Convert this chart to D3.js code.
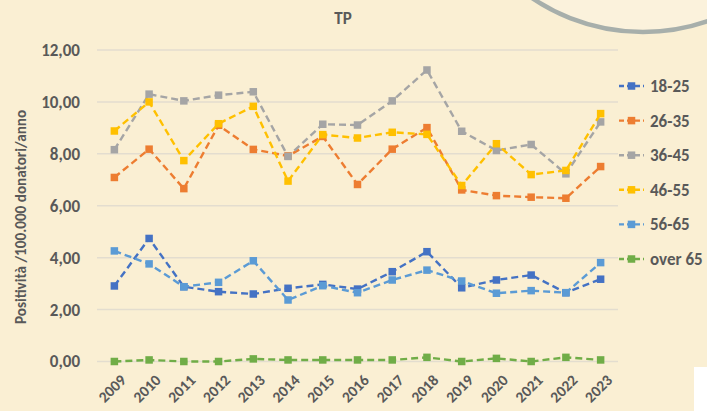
<!DOCTYPE html>
<html>
<head>
<meta charset="utf-8">
<script src="https://cdn.jsdelivr.net/npm/d3@7"></script>
<style>
body { margin: 0; background: #faefd3; }
svg { display: block; }
text { font-family: Carlito, "Liberation Sans Narrow", "Open Sans", sans-serif; font-weight: bold; fill: #595959; }
.grid line { stroke: #e3ddcf; stroke-width: 1.5px; }
.series { fill: none; stroke-width: 2.4px; stroke-dasharray: 7,4; }
</style>
</head>
<body>
<svg id="chart" width="707" height="411"></svg>
<script>

var years = ["2009","2010","2011","2012","2013","2014","2015","2016","2017","2018","2019","2020","2021","2022","2023"];
var ages = ["18-25","26-35","36-45","46-55","56-65","over 65"];
var colors = ["#4472c4","#ed7d31","#a5a5a5","#ffc000","#5b9bd5","#70ad47"];
var yTicks = [0, 2, 4, 6, 8, 10, 12];

var v1825 = [2.91,4.74,2.88,2.69,2.60,2.82,2.97,2.79,3.46,4.23,2.84,3.14,3.33,2.65,3.17];
var v2635 = [7.09,8.18,6.66,9.10,8.17,7.92,8.67,6.82,8.18,9.01,6.61,6.39,6.33,6.29,7.51];
var v3645 = [8.16,10.30,10.04,10.26,10.39,7.90,9.14,9.11,10.04,11.23,8.87,8.13,8.36,7.23,9.23];
var v4655 = [8.88,10.00,7.74,9.16,9.83,6.95,8.74,8.61,8.83,8.75,6.78,8.39,7.20,7.36,9.55];
var v5665 = [4.26,3.76,2.88,3.05,3.88,2.37,2.92,2.65,3.14,3.52,3.10,2.63,2.73,2.65,3.81];
var vOver65 = [0.00,0.06,0.00,0.00,0.10,0.06,0.06,0.06,0.06,0.16,0.00,0.12,0.00,0.16,0.06];

var series = [v1825, v2635, v3645, v4655, v5665, vOver65];

var svg = d3.select("#chart");
var margin = {top: 50, left: 97, right: 89, bottom: 50};

/// decorative arc top right
svg.append("circle")
    .attr("cx", 643).attr("cy", -166).attr("r", 198)
    .attr("fill", "#fbf2dc")
    .attr("stroke", "#a7afab")
    .attr("stroke-width", 4.5);

/// white patch bottom right
svg.append("rect")
    .attr("x", 694).attr("y", 367).attr("width", 13).attr("height", 44)
    .attr("fill", "#ffffff");

var g = svg.append("g").attr("transform", "translate(" + margin.left + "," + margin.top + ")");

var x = d3.scaleBand().domain(years).range([0, 521]);
var y = d3.scaleLinear().domain([0, 12]).range([311.5, 0]);

/// gridlines
g.append("g").attr("class", "grid")
  .selectAll("line").data(yTicks).join("line")
    .attr("x1", 0).attr("x2", 521)
    .attr("y1", function(d) { return y(d); })
    .attr("y2", function(d) { return y(d); });

/// y tick labels
var fmt = function(d) { return d3.format(".2f")(d).replace(".", ","); };
g.append("g")
  .selectAll("text").data(yTicks).join("text")
    .attr("x", -17)
    .attr("y", function(d) { return y(d); })
    .attr("dy", "0.35em")
    .attr("text-anchor", "end")
    .style("font-size", "17px")
    .text(fmt);

/// x tick labels
g.append("g")
  .selectAll("text").data(years).join("text")
    .attr("transform", function(d) {
        return "translate(" + (x(d) + x.bandwidth() / 2 + 5) + "," + (y(0) + 12) + ") rotate(-45)";
    })
    .attr("text-anchor", "end")
    .attr("dy", "0.7em")
    .style("font-size", "15.5px")
    .text(function(d) { return d; });

/// lines
var line = d3.line()
    .x(function(d, i) { return x(years[i]) + x.bandwidth() / 2; })
    .y(function(d) { return y(d); });

series.forEach(function(vals, k) {
    var sg = g.append("g");
    sg.append("path")
        .datum(vals)
        .attr("class", "series")
        .attr("stroke", colors[k])
        .attr("d", line);
    sg.selectAll("rect").data(vals).join("rect")
        .attr("x", function(d, i) { return x(years[i]) + x.bandwidth() / 2 - 3.75; })
        .attr("y", function(d) { return y(d) - 3.75; })
        .attr("width", 7.5).attr("height", 7.5)
        .attr("fill", colors[k]);
});

/// title
svg.append("text")
    .attr("x", 343).attr("y", 24)
    .attr("text-anchor", "middle")
    .style("font-size", "17px")
    .text("TP");

/// y axis title
svg.append("text")
    .attr("transform", "translate(26,217) rotate(-90)")
    .attr("text-anchor", "middle")
    .style("font-size", "15.2px")
    .text("Positività /100.000 donatori/anno");

/// legend
var legend = svg.append("g").attr("transform", "translate(619,86)");
var items = legend.selectAll("g").data(ages).join("g")
    .attr("transform", function(d, i) { return "translate(0," + (i * 34.6) + ")"; });
items.append("line")
    .attr("x1", 0).attr("x2", 25).attr("y1", 0).attr("y2", 0)
    .attr("stroke", function(d, i) { return colors[i]; })
    .attr("stroke-width", 2.4)
    .attr("stroke-dasharray", "5,3");
items.append("rect")
    .attr("x", 8.75).attr("y", -3.75).attr("width", 7.5).attr("height", 7.5)
    .attr("fill", function(d, i) { return colors[i]; });
items.append("text")
    .attr("x", 31).attr("y", 0).attr("dy", "0.35em")
    .style("font-size", "17px")
    .text(function(d) { return d; });

</script>
</body>
</html>
